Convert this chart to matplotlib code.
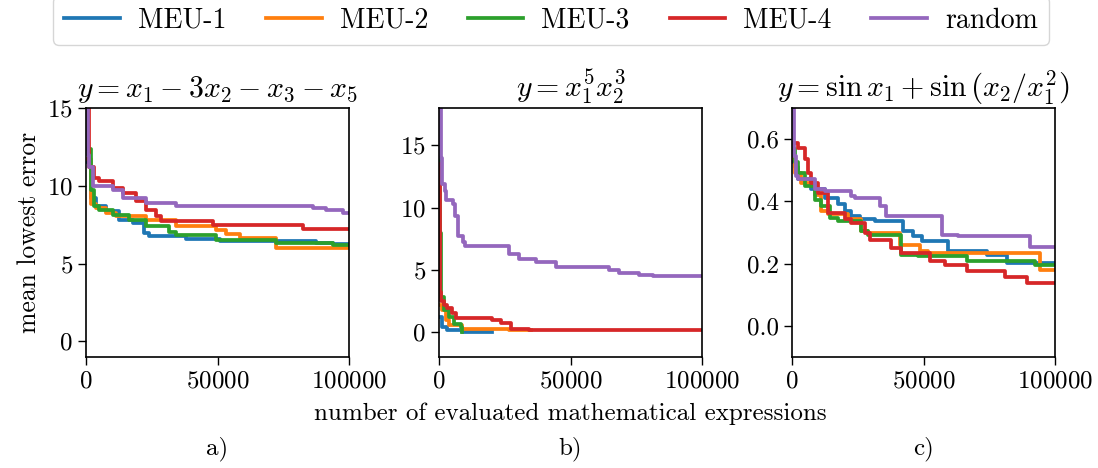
import matplotlib
matplotlib.use('Agg')
import matplotlib.pyplot as plt

plt.rcParams['font.family'] = 'serif'
plt.rcParams['font.serif'] = ['cmr10']
plt.rcParams['mathtext.fontset'] = 'cm'
plt.rcParams['axes.formatter.use_mathtext'] = True
plt.rcParams['font.size'] = 18

methods = ['MEU-1', 'MEU-2', 'MEU-3', 'MEU-4', 'random']
colors = ['tab:blue', 'tab:orange', 'tab:green', 'tab:red', 'tab:purple']

titles = [r'$y = x_1 - 3x_2 - x_3 - x_5$',
          r'$y = x_1^5 x_2^3$',
          r'$y = \sin x_1 + \sin\left(x_2 / x_1^2\right)$']
panel_tags = ['a)', 'b)', 'c)']

# a) y = x1 - 3x2 - x3 - x5
a_meu1_x = [0, 1900, 3800, 7600, 12700, 17800, 22200, 24100, 38100, 50800, 87600, 93900, 100000]
a_meu1_y = [11.5, 9.2, 8.7, 8.4, 7.8, 7.6, 6.95, 6.8, 6.57, 6.46, 6.3, 6.26, 6.26]
a_meu2_x = [0, 1900, 3800, 7600, 11400, 22800, 34300, 49500, 53300, 58400, 72300, 100000]
a_meu2_y = [11.7, 8.8, 8.57, 8.25, 8.03, 7.82, 7.39, 7.17, 6.91, 6.63, 5.98, 5.98]
a_meu3_x = [0, 1900, 3200, 5100, 10200, 16500, 22800, 31700, 34300, 49500, 72300, 93900, 100000]
a_meu3_y = [12.35, 9.7, 8.68, 8.47, 8.15, 7.82, 7.39, 7.06, 6.85, 6.52, 6.3, 6.2, 6.2]
a_meu4_x = [0, 1300, 3200, 5100, 10200, 14000, 19000, 22800, 26700, 28600, 48200, 82500, 100000]
a_meu4_y = [16.0, 11.2, 10.5, 10.3, 9.87, 9.55, 9.0, 8.47, 8.03, 7.71, 7.49, 7.21, 7.21]
a_rand_x = [0, 600, 1300, 2500, 10200, 14000, 22800, 34300, 39300, 86300, 91400, 97700, 100000]
a_rand_y = [16.0, 12.0, 11.2, 10.0, 9.76, 9.22, 8.9, 8.73, 8.68, 8.57, 8.42, 8.25, 8.25]

# b) y = x1^5 x2^3
b_meu1_x = [0, 1300, 3200, 8900, 20300]
b_meu1_y = [1.2, 0.4, 0.13, 0.0, 0.0]
b_meu2_x = [0, 1300, 2500, 3800, 8900, 26700, 34900]
b_meu2_y = [2.2, 1.74, 0.94, 0.54, 0.27, 0.19, 0.19]
b_meu3_x = [0, 300, 600, 900, 1900, 3800, 5700, 8200, 8900]
b_meu3_y = [14.0, 8.0, 4.0, 2.8, 1.74, 1.2, 0.67, 0.4, 0.0]
b_meu4_x = [0, 300, 900, 2000, 3200, 5000, 6300, 20300, 23500, 27300, 34300, 100000]
b_meu4_y = [13.5, 3.2, 2.5, 2.2, 1.9, 1.5, 1.15, 1.0, 0.72, 0.27, 0.13, 0.13]
b_rand_x = [0, 700, 1100, 2200, 2800, 5300, 6000, 7200, 9100, 10000, 26650, 30460,
            36800, 44420, 64720, 68530, 76140, 81220, 100000]
b_rand_y = [18.5, 14.0, 11.9, 11.3, 10.6, 10.3, 9.3, 7.7, 7.2, 6.9, 6.3, 5.9,
            5.63, 5.23, 4.96, 4.75, 4.6, 4.5, 4.5]

# c) y = sin x1 + sin(x2 / x1^2)
c_meu1_x = [0, 1015, 2280, 7360, 12440, 17510, 20050, 22590, 25760, 31470, 42260,
            46070, 49240, 59390, 73980, 81600, 100000]
c_meu1_y = [0.525, 0.509, 0.471, 0.439, 0.412, 0.39, 0.369, 0.352, 0.342, 0.336, 0.304,
            0.288, 0.272, 0.239, 0.228, 0.202, 0.202]
c_meu2_x = [0, 1000, 3500, 8600, 11170, 13710, 21320, 26400, 28930, 40990, 48600,
            51780, 94290, 100000]
c_meu2_y = [0.54, 0.49, 0.46, 0.42, 0.369, 0.358, 0.342, 0.304, 0.298, 0.261, 0.239,
            0.234, 0.18, 0.18]
c_meu3_x = [0, 1015, 2280, 4820, 8630, 11170, 14340, 17510, 26400, 28930, 41620,
            47970, 66370, 92390, 100000]
c_meu3_y = [0.568, 0.525, 0.492, 0.449, 0.406, 0.385, 0.347, 0.336, 0.304, 0.293, 0.228,
            0.223, 0.207, 0.196, 0.196]
c_meu4_x = [0, 2280, 4820, 6090, 7360, 9900, 13710, 20050, 22590, 27660, 29570, 37820,
            41620, 52410, 58120, 66370, 80960, 89210, 100000]
c_meu4_y = [0.589, 0.573, 0.536, 0.492, 0.46, 0.428, 0.363, 0.342, 0.331, 0.298, 0.277,
            0.25, 0.234, 0.207, 0.196, 0.175, 0.158, 0.137, 0.137]
c_rand_x = [0, 760, 1650, 2280, 8630, 12440, 22590, 23860, 33380, 35910, 56850, 63200,
            90480, 100000]
c_rand_y = [0.72, 0.546, 0.482, 0.471, 0.439, 0.433, 0.417, 0.412, 0.385, 0.352, 0.293,
            0.288, 0.255, 0.255]

panels = [
    [(a_meu1_x, a_meu1_y), (a_meu2_x, a_meu2_y), (a_meu3_x, a_meu3_y),
     (a_meu4_x, a_meu4_y), (a_rand_x, a_rand_y)],
    [(b_meu1_x, b_meu1_y), (b_meu2_x, b_meu2_y), (b_meu3_x, b_meu3_y),
     (b_meu4_x, b_meu4_y), (b_rand_x, b_rand_y)],
    [(c_meu1_x, c_meu1_y), (c_meu2_x, c_meu2_y), (c_meu3_x, c_meu3_y),
     (c_meu4_x, c_meu4_y), (c_rand_x, c_rand_y)],
]
ylims = [(-1, 15), (-2, 18), (-0.1, 0.7)]
yticks = [[0, 5, 10, 15], [0, 5, 10, 15], [0.0, 0.2, 0.4, 0.6]]

W, H = 1098, 468
fig = plt.figure(figsize=(W / 100, H / 100), dpi=100)
lefts = [86, 439, 792]
axes = []
for i in range(3):
    ax = fig.add_axes([lefts[i] / W, (H - 357) / H, 263 / W, 249 / H])
    for (xs, ys), name, c in zip(panels[i], methods, colors):
        ax.plot(xs, ys, drawstyle='steps-post', color=c, lw=2.7, label=name)
    ax.set_xlim(0, 100000)
    ax.set_ylim(*ylims[i])
    ax.set_xticks([0, 50000, 100000])
    ax.set_yticks(yticks[i])
    if i == 2:
        ax.set_yticklabels(['0.0', '0.2', '0.4', '0.6'])
    ax.tick_params(length=6, width=1.0)
    for s in ax.spines.values():
        s.set_linewidth(1.2)
    ax.set_title(titles[i], fontsize=21.5, pad=8)
    ax.text(0.5, -0.37, panel_tags[i], transform=ax.transAxes,
            ha='center', va='center', fontsize=18)
    axes.append(ax)

axes[0].set_ylabel('mean lowest error', fontsize=18.5)
axes[1].set_xlabel('number of evaluated mathematical expressions', labelpad=7)

handles, labels = axes[0].get_legend_handles_labels()
fig.legend(handles, labels, loc='lower left', ncol=5, mode='expand',
           bbox_to_anchor=(53 / W, (H - 45) / H, 996 / W, 43 / H),
           handlelength=2.0, handletextpad=0.65, borderaxespad=0, fontsize=20)

plt.savefig('out.png', dpi=100)
